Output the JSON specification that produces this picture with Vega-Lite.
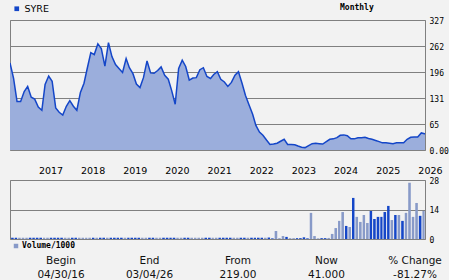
{
"$schema": "https://vega.github.io/schema/vega-lite/v6.json",
"background": "#f2f2f2",
"padding": {"left": 9, "top": 3, "right": 0, "bottom": 0},
"bounds": "flush",
"spacing": 30,
"config": {"view": {"stroke": "#808080", "strokeWidth": 1}, "axis": {"labelOverlap": false}},
"resolve": {"scale": {"color": "independent"}, "legend": {"color": "independent"}},
"datasets": {
"prices": [
{"d":"2016-04-30","c":219,"v":null,"dir":"down"},
{"d":"2016-05-31","c":180,"v":0.6,"dir":"down"},
{"d":"2016-06-30","c":122,"v":0.6,"dir":"down"},
{"d":"2016-07-31","c":122,"v":0.6,"dir":"up"},
{"d":"2016-08-31","c":147,"v":0.6,"dir":"up"},
{"d":"2016-09-30","c":160,"v":0.6,"dir":"up"},
{"d":"2016-10-31","c":133,"v":0.6,"dir":"down"},
{"d":"2016-11-30","c":128,"v":0.6,"dir":"down"},
{"d":"2016-12-31","c":108,"v":0.6,"dir":"down"},
{"d":"2017-01-31","c":100,"v":0.6,"dir":"down"},
{"d":"2017-02-28","c":165,"v":0.6,"dir":"up"},
{"d":"2017-03-31","c":186,"v":0.6,"dir":"up"},
{"d":"2017-04-30","c":173,"v":0.6,"dir":"down"},
{"d":"2017-05-31","c":106,"v":0.6,"dir":"down"},
{"d":"2017-06-30","c":95,"v":0.6,"dir":"down"},
{"d":"2017-07-31","c":88,"v":0.6,"dir":"down"},
{"d":"2017-08-31","c":110,"v":0.6,"dir":"up"},
{"d":"2017-09-30","c":124,"v":0.6,"dir":"up"},
{"d":"2017-10-31","c":110,"v":0.6,"dir":"down"},
{"d":"2017-11-30","c":100,"v":0.6,"dir":"down"},
{"d":"2017-12-31","c":145,"v":0.6,"dir":"up"},
{"d":"2018-01-31","c":168,"v":0.6,"dir":"up"},
{"d":"2018-02-28","c":205,"v":0.6,"dir":"up"},
{"d":"2018-03-31","c":245,"v":0.6,"dir":"up"},
{"d":"2018-04-30","c":240,"v":0.6,"dir":"down"},
{"d":"2018-05-31","c":267,"v":0.6,"dir":"up"},
{"d":"2018-06-30","c":255,"v":0.6,"dir":"down"},
{"d":"2018-07-31","c":211,"v":0.6,"dir":"down"},
{"d":"2018-08-31","c":270,"v":0.6,"dir":"up"},
{"d":"2018-09-30","c":235,"v":0.6,"dir":"down"},
{"d":"2018-10-31","c":215,"v":0.6,"dir":"down"},
{"d":"2018-11-30","c":205,"v":0.6,"dir":"down"},
{"d":"2018-12-31","c":195,"v":0.6,"dir":"down"},
{"d":"2019-01-31","c":230,"v":0.6,"dir":"up"},
{"d":"2019-02-28","c":207,"v":0.6,"dir":"down"},
{"d":"2019-03-31","c":192,"v":0.6,"dir":"down"},
{"d":"2019-04-30","c":166,"v":0.6,"dir":"down"},
{"d":"2019-05-31","c":157,"v":0.6,"dir":"down"},
{"d":"2019-06-30","c":182,"v":0.6,"dir":"up"},
{"d":"2019-07-31","c":224,"v":0.6,"dir":"up"},
{"d":"2019-08-31","c":194,"v":0.6,"dir":"down"},
{"d":"2019-09-30","c":193,"v":0.6,"dir":"down"},
{"d":"2019-10-31","c":200,"v":0.6,"dir":"up"},
{"d":"2019-11-30","c":209,"v":0.6,"dir":"up"},
{"d":"2019-12-31","c":188,"v":0.6,"dir":"down"},
{"d":"2020-01-31","c":178,"v":0.6,"dir":"down"},
{"d":"2020-02-29","c":150,"v":0.6,"dir":"down"},
{"d":"2020-03-31","c":115,"v":0.6,"dir":"down"},
{"d":"2020-04-30","c":205,"v":0.6,"dir":"up"},
{"d":"2020-05-31","c":226,"v":0.6,"dir":"up"},
{"d":"2020-06-30","c":210,"v":0.6,"dir":"down"},
{"d":"2020-07-31","c":176,"v":0.6,"dir":"down"},
{"d":"2020-08-31","c":181,"v":0.6,"dir":"up"},
{"d":"2020-09-30","c":182,"v":0.6,"dir":"up"},
{"d":"2020-10-31","c":202,"v":0.6,"dir":"up"},
{"d":"2020-11-30","c":207,"v":0.6,"dir":"up"},
{"d":"2020-12-31","c":185,"v":0.6,"dir":"down"},
{"d":"2021-01-31","c":180,"v":0.6,"dir":"down"},
{"d":"2021-02-28","c":190,"v":0.6,"dir":"up"},
{"d":"2021-03-31","c":197,"v":0.6,"dir":"up"},
{"d":"2021-04-30","c":178,"v":0.6,"dir":"down"},
{"d":"2021-05-31","c":171,"v":0.6,"dir":"down"},
{"d":"2021-06-30","c":160,"v":0.6,"dir":"down"},
{"d":"2021-07-31","c":170,"v":0.6,"dir":"down"},
{"d":"2021-08-31","c":188,"v":0.6,"dir":"up"},
{"d":"2021-09-30","c":197,"v":0.6,"dir":"up"},
{"d":"2021-10-31","c":168,"v":0.6,"dir":"down"},
{"d":"2021-11-30","c":137,"v":0.6,"dir":"down"},
{"d":"2021-12-31","c":113,"v":0.6,"dir":"up"},
{"d":"2022-01-31","c":90,"v":0.6,"dir":"down"},
{"d":"2022-02-28","c":62,"v":0.6,"dir":"down"},
{"d":"2022-03-31","c":45,"v":0.6,"dir":"down"},
{"d":"2022-04-30","c":37,"v":0.6,"dir":"down"},
{"d":"2022-05-31","c":25,"v":0.6,"dir":"up"},
{"d":"2022-06-30","c":14,"v":0.7,"dir":"down"},
{"d":"2022-07-31","c":15,"v":0.3,"dir":"down"},
{"d":"2022-08-31","c":17,"v":3.8,"dir":"up"},
{"d":"2022-09-30","c":22,"v":0.4,"dir":"up"},
{"d":"2022-10-31","c":27,"v":1.4,"dir":"up"},
{"d":"2022-11-30","c":14,"v":1.0,"dir":"down"},
{"d":"2022-12-31","c":14,"v":0.4,"dir":"up"},
{"d":"2023-01-31","c":13,"v":0.4,"dir":"up"},
{"d":"2023-02-28","c":10,"v":0.4,"dir":"down"},
{"d":"2023-03-31","c":7,"v":0.4,"dir":"down"},
{"d":"2023-04-30","c":6,"v":0.8,"dir":"down"},
{"d":"2023-05-31","c":11,"v":0.3,"dir":"down"},
{"d":"2023-06-30","c":16,"v":12.4,"dir":"up"},
{"d":"2023-07-31","c":17,"v":1.4,"dir":"up"},
{"d":"2023-08-31","c":16,"v":0.3,"dir":"up"},
{"d":"2023-09-30","c":15,"v":0.4,"dir":"down"},
{"d":"2023-10-31","c":21,"v":0.4,"dir":"down"},
{"d":"2023-11-30","c":27,"v":0.5,"dir":"up"},
{"d":"2023-12-31","c":28,"v":2.4,"dir":"up"},
{"d":"2024-01-31","c":31,"v":5.2,"dir":"up"},
{"d":"2024-02-29","c":37,"v":8.6,"dir":"up"},
{"d":"2024-03-31","c":38,"v":12.8,"dir":"up"},
{"d":"2024-04-30","c":36,"v":6.2,"dir":"down"},
{"d":"2024-05-31","c":28,"v":5.7,"dir":"up"},
{"d":"2024-06-30","c":28,"v":19.5,"dir":"down"},
{"d":"2024-07-31","c":31,"v":10.5,"dir":"up"},
{"d":"2024-08-31","c":31,"v":8.1,"dir":"up"},
{"d":"2024-09-30","c":32,"v":11.4,"dir":"up"},
{"d":"2024-10-31","c":29,"v":7.6,"dir":"up"},
{"d":"2024-11-30","c":27,"v":13.3,"dir":"down"},
{"d":"2024-12-31","c":24,"v":9.5,"dir":"down"},
{"d":"2025-01-31","c":21,"v":10.5,"dir":"down"},
{"d":"2025-02-28","c":18,"v":10.5,"dir":"down"},
{"d":"2025-03-31","c":18,"v":12.8,"dir":"down"},
{"d":"2025-04-30","c":17,"v":15.7,"dir":"down"},
{"d":"2025-05-31","c":16,"v":9.0,"dir":"up"},
{"d":"2025-06-30","c":18,"v":11.4,"dir":"down"},
{"d":"2025-07-31","c":18,"v":11.4,"dir":"up"},
{"d":"2025-08-31","c":18,"v":8.6,"dir":"down"},
{"d":"2025-09-30","c":27,"v":12.4,"dir":"up"},
{"d":"2025-10-31","c":32,"v":26.7,"dir":"up"},
{"d":"2025-11-30","c":33,"v":10.5,"dir":"up"},
{"d":"2025-12-31","c":33,"v":17.1,"dir":"up"},
{"d":"2026-01-31","c":43,"v":11.0,"dir":"down"},
{"d":"2026-02-28","c":41,"v":13.3,"dir":"up"},
{"d":"2026-03-04","c":41,"v":null,"dir":"up"}
],
"footer": [
{"col":1,"row":"label","t":"Begin"},
{"col":1,"row":"value","t":"04/30/16"},
{"col":2,"row":"label","t":"End"},
{"col":2,"row":"value","t":"03/04/26"},
{"col":3,"row":"label","t":"From"},
{"col":3,"row":"value","t":"219.00"},
{"col":4,"row":"label","t":"Now"},
{"col":4,"row":"value","t":"41.000"},
{"col":5,"row":"label","t":"% Change"},
{"col":5,"row":"value","t":"-81.27%"}
]
},
"vconcat": [
{
"width": 415, "height": 130,
"data": {"name": "prices"},
"encoding": {
"x": {"field": "d", "type": "temporal", "scale": {"domain": [{"year": 2016, "month": 4, "date": 30}, {"year": 2026, "month": 3, "date": 4}]}, "axis": null},
"y": {"field": "c", "type": "quantitative", "scale": {"domain": [0, 327], "nice": false},
"axis": {"orient": "right", "values": [0, 65.4, 130.8, 196.2, 261.6, 327], "labelExpr": "datum.value == 0 ? '0.00' : format(datum.value, '.0f')", "labelOverlap": false, "labelFlush": false, "ticks": false, "domain": false, "grid": true, "gridColor": "#808080", "gridOpacity": 1, "labelPadding": 4, "labelFont": "DejaVu Sans Mono", "labelFontSize": 8, "labelColor": "#000", "labelOffset": 1, "title": null}}
},
"layer": [
{"mark": {"type": "area", "color": "#9baedc", "clip": true}},
{"mark": {"type": "line", "color": "#1446c8", "strokeWidth": 1.5, "clip": true}},
{"data": {"values": [{}]},
"mark": {"type": "square", "opacity": 0},
"encoding": {"x": null, "y": null, "color": {"datum": "SYRE", "scale": {"range": ["#1446c8"]},
"legend": {"orient": "none", "legendX": 2, "legendY": -16, "title": null, "symbolType": "square", "symbolSize": 22, "symbolOpacity": 1, "symbolStrokeWidth": 0, "labelFont": "DejaVu Sans", "labelFontSize": 9.5, "labelColor": "#000", "labelOffset": 3}}}},
{"data": {"values": [{}]},
"mark": {"type": "point", "opacity": 0},
"encoding": {"x": null, "y": null, "shape": {"datum": "Monthly",
"legend": {"orient": "none", "legendX": 322, "legendY": -16, "title": null, "symbolSize": 0, "symbolOpacity": 0, "labelOffset": 0, "labelFont": "DejaVu Sans Mono", "labelFontSize": 8, "labelFontWeight": "bold", "labelColor": "#000"}}}}
]
},
{
"width": 415, "height": 59,
"data": {"name": "prices"},
"resolve": {"scale": {"color": "independent"}},
"layer": [
{"mark": {"type": "bar", "clip": true},
"encoding": {
"x": {"field": "d", "timeUnit": "yearmonth", "type": "temporal", "scale": {"domain": [{"year": 2016, "month": 4, "date": 30}, {"year": 2026, "month": 3, "date": 4}]},
"axis": {"orient": "top", "tickCount": {"interval": "year", "step": 1}, "format": "%Y", "labelAlign": "left", "labelFlush": false, "labelOverlap": false, "ticks": false, "domain": false, "grid": false, "labelPadding": 5, "labelFont": "DejaVu Sans", "labelFontSize": 9.5, "labelColor": "#000", "title": null}},
"y": {"field": "v", "type": "quantitative", "scale": {"domain": [0, 28], "nice": false},
"axis": {"orient": "right", "values": [0, 14, 28], "labelOverlap": false, "labelFlush": false, "ticks": false, "domain": false, "grid": true, "gridColor": "#808080", "gridOpacity": 1, "labelPadding": 4, "labelFont": "DejaVu Sans Mono", "labelFontSize": 8, "labelColor": "#000", "labelOffset": 1, "title": null}},
"fill": {"field": "dir", "type": "nominal", "scale": {"domain": ["down", "up"], "range": ["#1446c8", "#889ac8"]}, "legend": null}
}},
{"data": {"values": [{}]},
"mark": {"type": "square", "opacity": 0},
"encoding": {"color": {"datum": "Volume/1000", "scale": {"range": ["#889ac8"]},
"legend": {"orient": "none", "legendX": 2, "legendY": 62, "title": null, "symbolType": "square", "symbolSize": 20, "symbolOpacity": 1, "symbolStrokeWidth": 0, "labelFont": "DejaVu Sans Mono", "labelFontSize": 8, "labelFontWeight": "bold", "labelColor": "#000", "labelOffset": 2}}}}
]
},
{
"width": 415, "height": 10,
"data": {"name": "footer"},
"view": {"stroke": null},
"mark": {"type": "text", "font": "DejaVu Sans", "fontSize": 10.5, "color": "#111"},
"encoding": {
"x": {"field": "col", "type": "quantitative", "scale": {"domain": [0.424, 5.113]}, "axis": null},
"y": {"field": "row", "type": "nominal", "sort": ["label", "value"], "scale": {"type": "point", "padding": 0, "range": [-8, 6]}, "axis": null},
"text": {"field": "t"}
}
}
]
}
